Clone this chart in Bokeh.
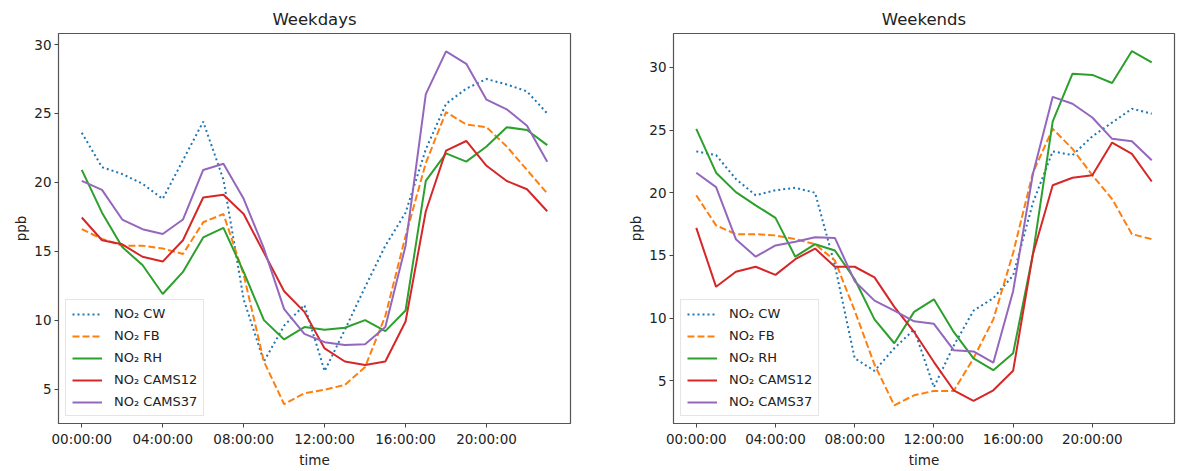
from bokeh.plotting import figure
from bokeh.layouts import row
from bokeh.models import Range1d, FixedTicker, Legend, LegendItem
from bokeh.embed import file_html
from bokeh.resources import INLINE

hours = list(range(24))
x_ticks = [0, 4, 8, 12, 16, 20]
x_tick_labels = ["00:00:00", "04:00:00", "08:00:00", "12:00:00", "16:00:00", "20:00:00"]
y_ticks = [5, 10, 15, 20, 25, 30]

series_names = ["NO\u2082 CW", "NO\u2082 FB", "NO\u2082 RH", "NO\u2082 CAMS12", "NO\u2082 CAMS37"]

# Weekdays
wd_cw = [23.6, 21.1, 20.6, 19.9, 18.8, 21.6, 24.4, 20.2, 11.5, 7.0, 9.6, 11.1,
         6.3, 9.3, 12.4, 15.4, 17.8, 22.4, 25.7, 26.8, 27.5, 27.1, 26.6, 25.0]
wd_fb = [16.6, 15.9, 15.4, 15.4, 15.2, 14.8, 17.1, 17.7, 13.3, 7.0, 3.9, 4.7,
         4.95, 5.3, 6.6, 10.3, 16.1, 21.4, 25.1, 24.2, 24.0, 22.6, 20.9, 19.2]
wd_rh = [20.9, 17.8, 15.3, 14.0, 11.9, 13.5, 16.0, 16.7, 13.5, 10.0, 8.6, 9.5,
         9.3, 9.45, 10.0, 9.2, 10.7, 20.1, 22.1, 21.5, 22.6, 24.0, 23.8, 22.7]
wd_cams12 = [17.45, 15.8, 15.5, 14.6, 14.25, 15.8, 18.9, 19.1, 17.7, 14.9, 12.1, 10.6,
             7.95, 7.0, 6.75, 7.0, 9.9, 17.9, 22.3, 23.0, 21.2, 20.1, 19.5, 17.9]
wd_cams37 = [20.1, 19.45, 17.3, 16.6, 16.25, 17.3, 20.9, 21.35, 18.8, 15.2, 10.8, 9.0,
             8.4, 8.2, 8.25, 9.5, 15.4, 26.4, 29.5, 28.6, 26.0, 25.3, 24.1, 21.5]

# Weekends
we_cw = [23.3, 23.0, 21.1, 19.8, 20.2, 20.4, 20.0, 14.2, 6.8, 5.8, 7.6, 9.1,
         4.5, 7.8, 10.6, 11.6, 13.4, 19.2, 23.3, 23.0, 24.5, 25.6, 26.7, 26.3]
we_fb = [19.8, 17.4, 16.7, 16.7, 16.6, 16.3, 15.9, 14.6, 10.6, 6.3, 3.05, 3.85,
         4.2, 4.2, 6.8, 9.9, 15.2, 21.6, 25.1, 23.5, 21.4, 19.5, 16.7, 16.3]
we_rh = [25.1, 21.6, 20.05, 19.0, 18.0, 14.9, 15.9, 15.4, 13.1, 9.9, 8.0, 10.5,
         11.5, 8.9, 6.8, 5.85, 7.2, 15.1, 25.7, 29.5, 29.4, 28.75, 31.3, 30.4]
we_cams12 = [17.2, 12.5, 13.7, 14.1, 13.45, 14.7, 15.55, 14.1, 14.1, 13.25, 10.9, 8.9,
             6.5, 4.25, 3.4, 4.25, 5.8, 15.1, 20.6, 21.2, 21.4, 24.0, 23.1, 20.9]
we_cams37 = [21.6, 20.45, 16.3, 14.9, 15.8, 16.1, 16.45, 16.4, 12.95, 11.4, 10.6, 9.75,
             9.55, 7.45, 7.35, 6.45, 12.15, 21.5, 27.65, 27.1, 26.0, 24.3, 24.1, 22.6]

colors = ["#1f77b4", "#ff7f0e", "#2ca02c", "#d62728", "#9467bd"]
dashes = ["2 3", "7 3", "solid", "solid", "solid"]

FONT = "DejaVu Sans"


def make_plot(title, data, y0, y1, width, bl, br):
    p = figure(width=width, height=470, output_backend="svg", toolbar_location=None,
               x_range=Range1d(-1.15, 24.15), y_range=Range1d(y0, y1),
               min_border_left=bl, min_border_right=br, min_border_top=33,
               min_border_bottom=45)
    p.title.text = title
    p.title.align = "center"
    p.title.text_font = FONT
    p.title.text_font_style = "normal"
    p.title.text_font_size = "16.5px"
    p.title.text_color = "#222222"
    p.grid.visible = False
    p.outline_line_color = "#555555"
    p.outline_line_width = 1.2
    items = []
    for name, ys, c, d in zip(series_names, data, colors, dashes):
        r = p.line(hours, ys, line_color=c, line_width=2, line_dash=d)
        items.append(LegendItem(label=name, renderers=[r]))
    leg = Legend(items=items, location="bottom_left", glyph_width=30, glyph_height=14,
                 label_standoff=12, spacing=7, padding=6, margin=7,
                 label_text_font=FONT, label_text_font_size="13px",
                 label_text_color="#222222", border_line_color="#cccccc",
                 border_line_width=1, background_fill_alpha=0.9)
    p.add_layout(leg)
    for ax in (p.xaxis, p.yaxis):
        ax.major_label_text_font = FONT
        ax.major_label_text_font_size = "13.5px"
        ax.major_label_text_color = "#222222"
        ax.axis_label_text_font = FONT
        ax.axis_label_text_font_size = "13.5px"
        ax.axis_label_text_font_style = "normal"
        ax.axis_label_text_color = "#222222"
        ax.minor_tick_line_color = None
        ax.major_tick_in = 0
        ax.major_tick_out = 4
        ax.major_tick_line_color = "#444444"
        ax.axis_line_color = "#555555"
        ax.axis_label_standoff = 2
        ax.major_label_standoff = 3
    p.xaxis.ticker = FixedTicker(ticks=x_ticks)
    p.xaxis.major_label_overrides = {t: l for t, l in zip(x_ticks, x_tick_labels)}
    p.yaxis.ticker = FixedTicker(ticks=y_ticks)
    p.xaxis.axis_label = "time"
    p.yaxis.axis_label = "ppb"
    return p


p1 = make_plot("Weekdays", [wd_cw, wd_fb, wd_rh, wd_cams12, wd_cams37], 2.5, 30.8, 623, 58, 53)
p2 = make_plot("Weekends", [we_cw, we_fb, we_rh, we_cams12, we_cams37], 1.6, 32.7, 553, 50, 2)

layout = row(p1, p2)
open("out.html", "w").write(file_html(layout, INLINE))
